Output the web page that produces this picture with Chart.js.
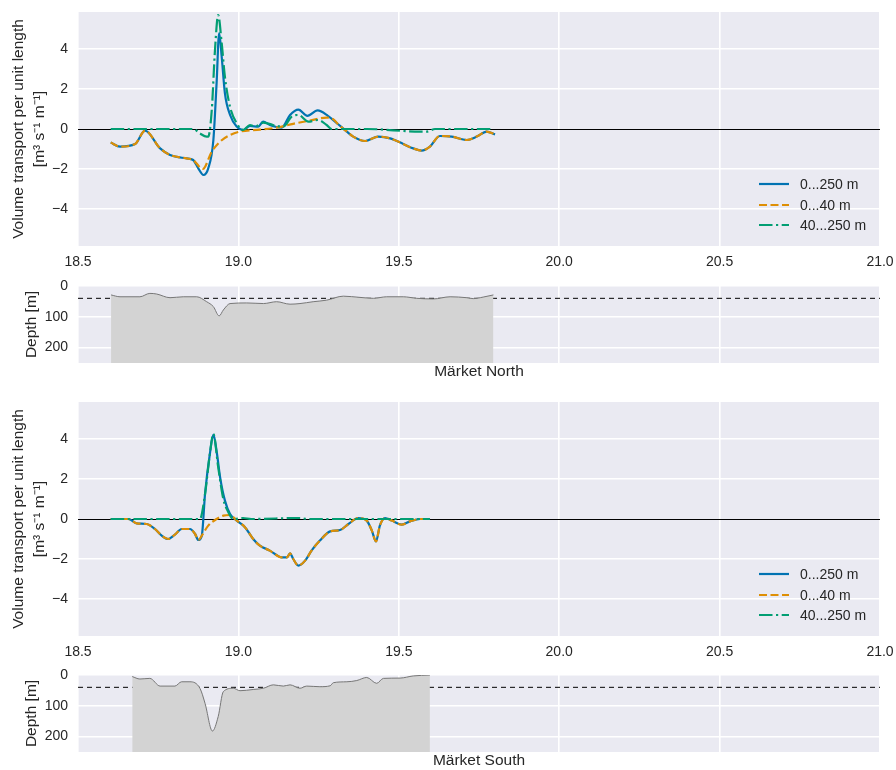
<!DOCTYPE html>
<html lang="en">
<head>
    <title>Märket transport sections</title>
    <script src="https://cdn.jsdelivr.net/npm/chart.js"></script>
    <style>
        body { margin: 0; background: #fff; overflow: hidden; }
        canvas { position: absolute; left: 0; }
    </style>
</head>
<body>
    <canvas id="northFlow" width="896" height="275" style="top:0px"></canvas>
    <canvas id="northDepth" width="896" height="106" style="top:275px"></canvas>
    <canvas id="southFlow" width="896" height="275" style="top:390px"></canvas>
    <canvas id="southDepth" width="896" height="106" style="top:664px"></canvas>
    <script>
        // axis settings
        var xMin = 18.5, xMax = 21.0;
        var xTicks = [18.5, 19.0, 19.5, 20.0, 20.5, 21.0];
        var flowMin = -5.85, flowMax = 5.85;
        var flowTicks = [-4, -2, 0, 2, 4];
        var depthMax = 250;
        var depthTicks = [0, 100, 200];
        var splitDepth = 40;
        var seriesNames = ['0...250 m', '0...40 m', '40...250 m'];

        // Märket North - transport per unit length
        var northLonAll = [18.602, 18.631, 18.678, 18.709, 18.756, 18.787, 18.839, 18.859, 18.875, 18.891, 18.906, 18.922, 18.932, 18.940, 18.948, 18.958, 18.974, 18.995, 19.015, 19.036, 19.062, 19.077, 19.098, 19.135, 19.161, 19.187, 19.215, 19.247, 19.279, 19.310, 19.338, 19.358, 19.395, 19.436, 19.473, 19.514, 19.545, 19.571, 19.597, 19.628, 19.665, 19.712, 19.743, 19.774, 19.800];
        var northAll = [-0.68, -0.88, -0.75, -0.08, -0.97, -1.30, -1.47, -1.55, -1.97, -2.30, -1.97, -0.55, 2.28, 4.80, 3.60, 1.78, 0.70, 0.12, -0.05, 0.15, 0.12, 0.37, 0.20, 0.07, 0.70, 0.97, 0.66, 0.93, 0.66, 0.25, -0.13, -0.38, -0.60, -0.38, -0.47, -0.75, -0.97, -1.08, -0.88, -0.35, -0.38, -0.55, -0.38, -0.13, -0.27];
        var northLonTop = [18.602, 18.631, 18.678, 18.709, 18.756, 18.787, 18.839, 18.859, 18.889, 18.917, 18.943, 18.974, 19.005, 19.067, 19.119, 19.171, 19.223, 19.275, 19.296, 19.310, 19.338, 19.358, 19.395, 19.436, 19.473, 19.514, 19.545, 19.571, 19.597, 19.628, 19.665, 19.712, 19.743, 19.774, 19.800];
        var northTop = [-0.68, -0.88, -0.75, -0.08, -0.97, -1.30, -1.47, -1.55, -2.00, -1.13, -0.63, -0.30, -0.13, -0.03, 0.07, 0.26, 0.42, 0.57, 0.48, 0.25, -0.13, -0.38, -0.60, -0.38, -0.47, -0.75, -0.97, -1.08, -0.88, -0.35, -0.38, -0.55, -0.38, -0.13, -0.27];
        var northLonDeep = [18.602, 18.700, 18.859, 18.880, 18.901, 18.906, 18.917, 18.927, 18.937, 18.948, 18.958, 18.974, 18.995, 19.015, 19.036, 19.052, 19.078, 19.119, 19.140, 19.166, 19.187, 19.218, 19.249, 19.275, 19.291, 19.400, 19.566, 19.588, 19.613, 19.795];
        var northDeep = [0, 0, 0, -0.22, -0.38, -0.38, 0.95, 3.95, 5.70, 4.28, 2.60, 1.10, 0.28, -0.05, 0.20, 0.12, 0.32, 0.15, 0.12, 0.62, 0.70, 0.37, 0.45, 0.20, 0, 0, -0.13, -0.13, 0, 0];

        // Märket North - bottom depth
        var northLonBed = [18.603, 18.631, 18.693, 18.724, 18.745, 18.787, 18.828, 18.870, 18.901, 18.922, 18.940, 18.953, 18.974, 19.026, 19.078, 19.119, 19.161, 19.192, 19.233, 19.275, 19.327, 19.379, 19.421, 19.462, 19.514, 19.556, 19.608, 19.660, 19.712, 19.732, 19.763, 19.795];
        var northBed = [29, 35, 35, 24, 26, 38, 35, 35, 51, 67, 97, 78, 57, 55, 57, 51, 59, 57, 51, 46, 33, 37, 40, 35, 35, 40, 42, 35, 38, 41, 36, 29];

        // Märket South - transport per unit length
        var southLonAll = [18.602, 18.657, 18.683, 18.714, 18.740, 18.761, 18.781, 18.802, 18.823, 18.849, 18.865, 18.875, 18.886, 18.896, 18.911, 18.922, 18.932, 18.943, 18.958, 18.974, 18.995, 19.021, 19.046, 19.067, 19.098, 19.135, 19.151, 19.161, 19.171, 19.187, 19.208, 19.228, 19.254, 19.286, 19.317, 19.343, 19.374, 19.400, 19.416, 19.429, 19.441, 19.457, 19.478, 19.509, 19.535, 19.566, 19.597];
        var southAll = [0, 0, -0.22, -0.25, -0.50, -0.83, -1.00, -0.78, -0.50, -0.50, -0.75, -1.05, -0.83, 1.25, 3.25, 4.22, 3.40, 2.08, 0.92, 0.25, -0.08, -0.42, -1.00, -1.33, -1.58, -1.92, -1.92, -1.72, -2.00, -2.33, -2.08, -1.58, -1.08, -0.62, -0.55, -0.25, 0.05, -0.08, -0.58, -1.12, -0.33, 0.05, -0.08, -0.28, -0.12, 0, 0];
        var southLonTop = [18.602, 18.657, 18.683, 18.714, 18.740, 18.761, 18.781, 18.802, 18.823, 18.849, 18.865, 18.875, 18.886, 18.906, 18.932, 18.953, 18.974, 18.995, 19.021, 19.046, 19.067, 19.098, 19.135, 19.151, 19.161, 19.171, 19.187, 19.208, 19.228, 19.254, 19.286, 19.317, 19.343, 19.374, 19.400, 19.416, 19.429, 19.441, 19.457, 19.478, 19.509, 19.535, 19.566, 19.597];
        var southTop = [0, 0, -0.22, -0.25, -0.50, -0.83, -1.00, -0.78, -0.50, -0.50, -0.75, -1.05, -0.83, -0.33, 0, 0.17, 0.20, -0.08, -0.42, -1.00, -1.33, -1.58, -1.92, -1.92, -1.72, -2.00, -2.33, -2.08, -1.58, -1.08, -0.62, -0.55, -0.25, 0.05, -0.08, -0.58, -1.12, -0.33, 0.05, -0.08, -0.28, -0.12, 0, 0];
        var southLonDeep = [18.602, 18.880, 18.896, 18.911, 18.922, 18.937, 18.953, 18.969, 18.984, 19.015, 19.040, 19.192, 19.215, 19.597];
        var southDeep = [0, 0, 1.25, 3.25, 4.25, 2.60, 1.00, 0.33, 0, 0.05, 0, 0.05, 0, 0];

        // Märket South - bottom depth
        var southLonBed = [18.669, 18.693, 18.724, 18.756, 18.802, 18.823, 18.849, 18.880, 18.896, 18.919, 18.937, 18.953, 18.984, 19.005, 19.046, 19.078, 19.109, 19.140, 19.161, 19.192, 19.213, 19.254, 19.286, 19.296, 19.338, 19.369, 19.400, 19.431, 19.452, 19.504, 19.545, 19.597];
        var southBed = [5, 13, 11, 36, 36, 22, 22, 43, 92, 182, 135, 54, 43, 51, 47, 43, 32, 36, 32, 43, 36, 38, 35, 25, 22, 18, 8, 27, 11, 10, 3, 0];

        var textColor = '#262626';
        var fontFamily = '"Liberation Sans", Arial, sans-serif';
        Chart.defaults.font.family = fontFamily;
        Chart.defaults.font.size = 14;
        Chart.defaults.color = textColor;

        var colors = ['#0173B2', '#DE8F05', '#029E73'];
        var dashes = [[], [8, 3.5], [13.5, 3.5, 2.2, 3.5]];

        function pts(xs, ys) {
            return xs.map(function (x, i) { return { x: x, y: ys[i] }; });
        }
        function fixedTicks(list) {
            return function (scale) { scale.ticks = list.map(function (v) { return { value: v }; }); };
        }
        // fixed axis box size, no extra label padding from chart.js
        function fixWidth(w) {
            return function (s) { s.width = w; s.paddingTop = 0; s.paddingBottom = 0; s.paddingLeft = 0; s.paddingRight = 0; };
        }
        function fixHeight(h) {
            return function (s) { s.height = h; s.paddingTop = 0; s.paddingBottom = 0; s.paddingLeft = 0; s.paddingRight = 0; };
        }

        // grey-blue axes background like seaborn darkgrid
        var bgPlugin = {
            id: 'bg',
            beforeDraw: function (chart) {
                var a = chart.chartArea, ctx = chart.ctx;
                ctx.save();
                ctx.fillStyle = '#EAEAF2';
                ctx.fillRect(a.left, a.top, a.right - a.left, a.bottom - a.top);
                ctx.restore();
            }
        };

        // legend in lower right corner of the axes
        var legendPlugin = {
            id: 'cornerLegend',
            afterDraw: function (chart) {
                var a = chart.chartArea, ctx = chart.ctx;
                var rows = [62, 41, 21];
                ctx.save();
                for (var i = 0; i < seriesNames.length; i++) {
                    var y = a.bottom - rows[i];
                    ctx.strokeStyle = colors[i];
                    ctx.lineWidth = 2.2;
                    ctx.setLineDash(dashes[i]);
                    ctx.beginPath();
                    ctx.moveTo(a.right - 121, y);
                    ctx.lineTo(a.right - 91, y);
                    ctx.stroke();
                    ctx.setLineDash([]);
                    ctx.fillStyle = textColor;
                    ctx.font = '14px ' + fontFamily;
                    ctx.textBaseline = 'middle';
                    ctx.fillText(seriesNames[i], a.right - 80, y + 1);
                }
                ctx.restore();
            }
        };

        function flowChart(id, lonAll, all, lonTop, top, lonDeep, deep) {
            var sets = [[lonDeep, deep], [lonTop, top], [lonAll, all]];
            var order = [2, 1, 0];
            var datasets = sets.map(function (s, k) {
                var i = order[k];
                return {
                    label: seriesNames[i],
                    data: pts(s[0], s[1]),
                    borderColor: colors[i],
                    borderWidth: 2.2,
                    borderDash: dashes[i],
                    pointRadius: 0,
                    cubicInterpolationMode: 'monotone',
                    fill: false
                };
            });
            return new Chart(document.getElementById(id), {
                type: 'line',
                data: { datasets: datasets },
                plugins: [bgPlugin, legendPlugin],
                options: {
                    responsive: false,
                    animation: false,
                    layout: { padding: { top: 12, right: 16, bottom: 0, left: 0 } },
                    plugins: { legend: { display: false }, tooltip: { enabled: false } },
                    scales: {
                        x: {
                            type: 'linear', min: xMin, max: xMax,
                            afterBuildTicks: fixedTicks(xTicks),
                            afterFit: fixHeight(29),
                            ticks: { padding: 8, maxRotation: 0, callback: function (v) { return v.toFixed(1); } },
                            grid: { color: '#fff', lineWidth: 1.6, drawTicks: false },
                            border: { display: false }
                        },
                        y: {
                            min: flowMin, max: flowMax,
                            afterBuildTicks: fixedTicks(flowTicks),
                            afterFit: fixWidth(78),
                            ticks: { padding: 10, callback: function (v) { return String(v).replace('-', '\u2212'); } },
                            grid: {
                                drawTicks: false,
                                color: function (c) { return c.tick && c.tick.value === 0 ? '#000' : '#fff'; },
                                lineWidth: function (c) { return c.tick && c.tick.value === 0 ? 1 : 1.6; }
                            },
                            border: { display: false },
                            title: {
                                display: true,
                                text: ['Volume transport per unit length', '[m\u00B3 s\u207B\u00B9 m\u207B\u00B9]'],
                                font: { size: 15.5, lineHeight: 1.3 },
                                padding: { top: 9, bottom: 0 }
                            }
                        }
                    }
                }
            });
        }

        function depthChart(id, lonBed, bed, name) {
            return new Chart(document.getElementById(id), {
                type: 'line',
                data: {
                    datasets: [{
                        data: pts(lonBed, bed),
                        borderColor: '#777',
                        borderWidth: 1,
                        backgroundColor: '#D3D3D3',
                        fill: { value: depthMax },
                        pointRadius: 0,
                        cubicInterpolationMode: 'monotone',
                        order: 1
                    }, {
                        data: [{ x: xMin, y: splitDepth }, { x: xMax, y: splitDepth }],
                        borderColor: '#000',
                        borderWidth: 1,
                        borderDash: [5, 4],
                        pointRadius: 0,
                        fill: false,
                        order: 2
                    }]
                },
                plugins: [bgPlugin],
                options: {
                    responsive: false,
                    animation: false,
                    layout: { padding: { top: 11, right: 16, bottom: 0, left: 0 } },
                    plugins: { legend: { display: false }, tooltip: { enabled: false } },
                    scales: {
                        x: {
                            type: 'linear', min: xMin, max: xMax,
                            afterBuildTicks: fixedTicks(xTicks),
                            afterFit: fixHeight(18),
                            ticks: { display: false },
                            grid: { color: '#fff', lineWidth: 1.6, drawTicks: false },
                            border: { display: false },
                            title: { display: true, text: name, font: { size: 15.5 }, padding: { top: 0, bottom: 0 } }
                        },
                        y: {
                            min: 0, max: depthMax, reverse: true,
                            afterBuildTicks: fixedTicks(depthTicks),
                            afterFit: fixWidth(78),
                            ticks: { padding: 10 },
                            grid: { color: '#fff', lineWidth: 1.6, drawTicks: false },
                            border: { display: false },
                            title: { display: true, text: 'Depth [m]', font: { size: 15.5 }, padding: { top: 22, bottom: 0 } }
                        }
                    }
                }
            });
        }

        flowChart('northFlow', northLonAll, northAll, northLonTop, northTop, northLonDeep, northDeep);
        depthChart('northDepth', northLonBed, northBed, 'Märket North');
        flowChart('southFlow', southLonAll, southAll, southLonTop, southTop, southLonDeep, southDeep);
        depthChart('southDepth', southLonBed, southBed, 'Märket South');
    </script>
</body>
</html>
